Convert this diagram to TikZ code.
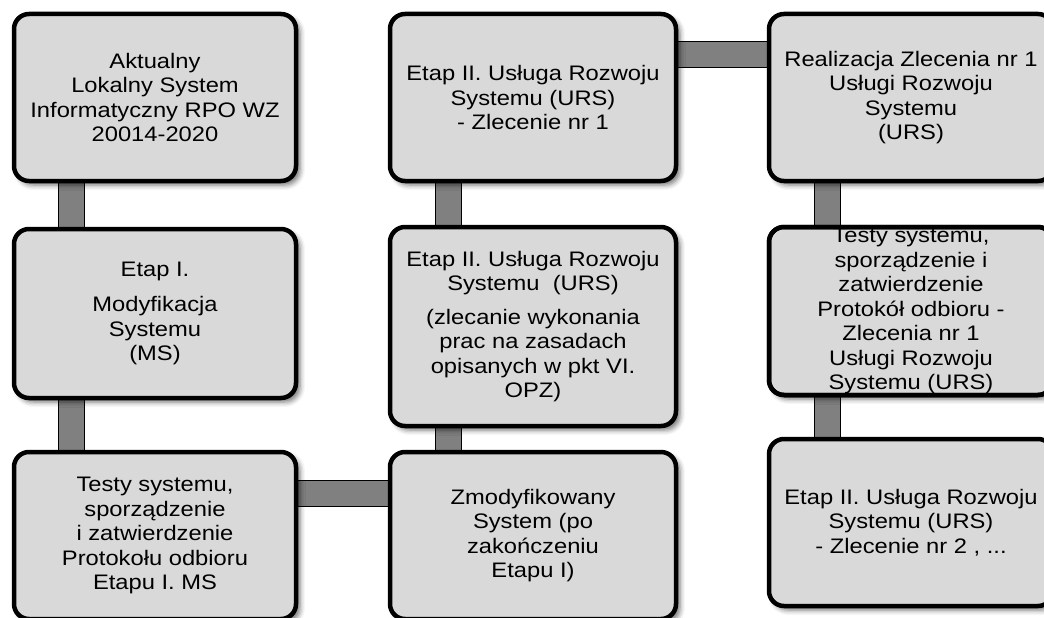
\documentclass[tikz,border=0pt]{standalone}
\usepackage{fontspec}
\setmainfont{Liberation Sans}[FakeStretch=1.13]
\usetikzlibrary{shadows.blur,backgrounds}
\definecolor{boxgray}{HTML}{D9D9D9}
\definecolor{conngray}{HTML}{808080}
\begin{document}
\begin{tikzpicture}[x=1pt,y=-1pt,
  box/.style={draw=black, line width=4.5pt, fill=boxgray, rounded corners=15pt,
    align=center, inner sep=0pt, outer sep=0pt, text=black,
    font=\fontsize{21pt}{24.5pt}\selectfont,
    blur shadow={shadow xshift=4pt, shadow yshift=-4pt, shadow blur radius=5pt, shadow opacity=55}},
  rim/.style={draw=black, line width=4.5pt, rounded corners=15pt},
  conn/.style={draw=black, line width=1pt, double=conngray, double distance=25pt}]
\useasboundingbox (0,0) rectangle (1044,618);

% column 1
\node[box, minimum width=282pt, minimum height=167pt] (b1) at (155,97.5)
  {Aktualny\\Lokalny System\\Informatyczny RPO WZ\\20014-2020};
\node[box, minimum width=282pt, minimum height=169pt] (b2) at (155,313.5)
  {Etap I.\\[11pt]Modyfikacja\\Systemu\\(MS)};
\node[box, minimum width=282pt, minimum height=167pt] (b3) at (155,535.5)
  {Testy systemu,\\sporządzenie\\i zatwierdzenie\\Protokołu odbioru\\Etapu I. MS};

% column 2
\node[box, minimum width=286pt, minimum height=167pt] (b4) at (533,97.5)
  {Etap II. Usługa Rozwoju\\Systemu (URS)\\- Zlecenie nr 1};
\node[box, minimum width=286pt, minimum height=199pt] (b5) at (533,326.5)
  {Etap II. Usługa Rozwoju\\Systemu\ \ (URS)\\[9pt](zlecanie wykonania\\prac na zasadach\\opisanych w pkt VI.\\OPZ)};
\node[box, minimum width=286pt, minimum height=167pt] (b6) at (533,535.5)
  {Zmodyfikowany\\System (po\\zakończeniu\\Etapu I)};

% column 3
\node[box, minimum width=284pt, minimum height=167pt] (b7) at (911,97.5)
  {Realizacja Zlecenia nr 1\\Usługi Rozwoju\\Systemu\\(URS)};
\node[box, minimum width=284pt, minimum height=168pt] (b8) at (911,311)
  {Testy systemu,\\sporządzenie i\\zatwierdzenie\\Protokół odbioru -\\Zlecenia nr 1\\Usługi Rozwoju\\Systemu (URS)};
\draw[rim] (b8.south west) rectangle (b8.north east);
\node[box, minimum width=284pt, minimum height=167pt] (b9) at (911,522.5)
  {Etap II. Usługa Rozwoju\\Systemu (URS)\\- Zlecenie nr 2 , ...};

% connectors
\begin{scope}[on background layer]
\draw[conn] ([xshift=57pt]b1.south west) -- ([xshift=57pt]b2.north west);
\draw[conn] ([xshift=57pt]b2.south west) -- ([xshift=57pt]b3.north west);
\draw[conn] ([xshift=58.5pt]b4.south west) -- ([xshift=58.5pt]b5.north west);
\draw[conn] ([xshift=58.5pt]b5.south west) -- ([xshift=58.5pt]b6.north west);
\draw[conn] ([xshift=58pt]b7.south west) -- ([xshift=58pt]b8.north west);
\draw[conn] ([xshift=58pt]b8.south west) -- ([xshift=58pt]b9.north west);
\draw[conn] ([yshift=-41pt]b4.north east) -- ([yshift=-41pt]b7.north west);
\draw[conn] ([yshift=-41.5pt]b3.north east) -- ([yshift=-41.5pt]b6.north west);
\end{scope}
\end{tikzpicture}
\end{document}
